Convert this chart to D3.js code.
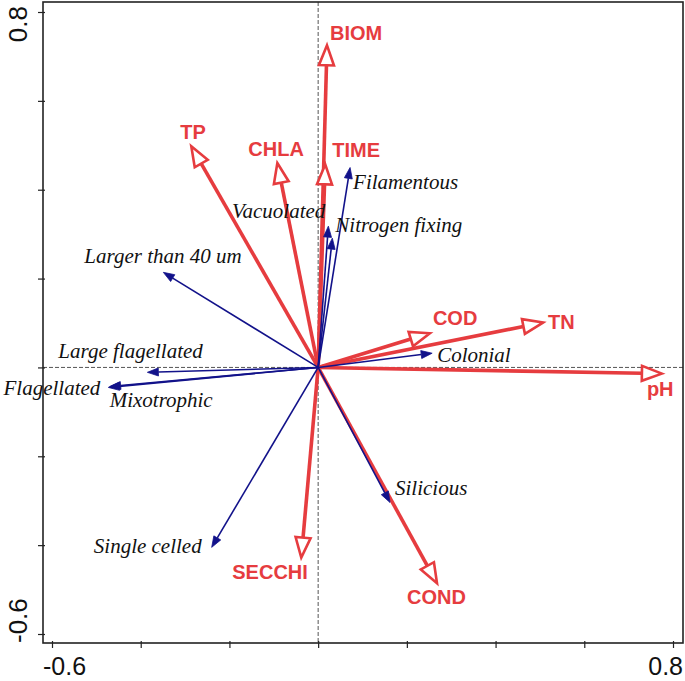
<!DOCTYPE html>
<html>
<head>
<meta charset="utf-8">
<script src="https://cdn.jsdelivr.net/npm/d3@7"></script>
<style>
  html, body { margin: 0; padding: 0; background: #fff; }
  svg { display: block; }
</style>
</head>
<body>
<svg id="chart" width="685" height="681"></svg>
<script>
// environmental variables (red, open heads)
const envNames = ["BIOM", "TP", "CHLA", "TIME", "COD", "TN", "pH", "SECCHI", "COND"];
const envX = [0.020, -0.286, -0.092, 0.016, 0.252, 0.507, 0.775, -0.038, 0.268];
const envY = [0.725, 0.498, 0.460, 0.457, 0.077, 0.101, -0.014, -0.428, -0.486];

// traits (blue, filled heads)
const traitNames = ["Filamentous", "Vacuolated", "Nitrogen fixing", "Larger than 40 um",
  "Large flagellated", "Flagellated", "Mixotrophic", "Colonial", "Silicious", "Single celled"];
const traitX = [0.072, 0.023, 0.032, -0.349, -0.385, -0.473, -0.470, 0.257, 0.162, -0.240];
const traitY = [0.450, 0.318, 0.291, 0.214, -0.011, -0.045, -0.043, 0.032, -0.304, -0.405];

const tickValues = [-0.6, -0.4, -0.2, 0, 0.2, 0.4, 0.6, 0.8];
const tickLabels = ["-0.6", "0.8"];

// label placement relative to arrow tip: [dx, dy, anchor]
const labelPlace = {
  "BIOM": [3, -5, "start"], "TP": [-11, -7, "start"], "CHLA": [-29, -7, "start"],
  "TIME": [7, -7, "start"], "COD": [3, -8, "start"], "TN": [5, 6, "start"],
  "pH": [-15, 22, "start"], "SECCHI": [-69, 21, "start"], "COND": [-30, 21, "start"],
  "Filamentous": [3, 21, "start"], "Vacuolated": [-3, -8, "end"],
  "Nitrogen fixing": [3, -6, "start"], "Larger than 40 um": [-79, -9, "start"],
  "Large flagellated": [-89, -14, "start"], "Flagellated": [-8, 8, "end"],
  "Mixotrophic": [0, 20, "start"], "Colonial": [5, 9, "start"],
  "Silicious": [5, -7, "start"], "Single celled": [-10, 6, "end"]
};

const red = "#e63c3f";
const blue = "#12128a";

const svg = d3.select("#chart");
const x = d3.scaleLinear().domain([-0.6, 0.8]).range([52, 673]);
const y = d3.scaleLinear().domain([-0.6, 0.8]).range([634, 12]);
const frameL = x.range()[0] - 9, frameR = x.range()[1] + 10;
const frameT = y.range()[1] - 10, frameB = y.range()[0] + 9;

// zero lines
const g = svg.append("g");
g.append("line")
  .attr("x1", x(0)).attr("x2", x(0)).attr("y1", frameT).attr("y2", frameB)
  .attr("stroke", "#555").attr("stroke-width", 1).attr("stroke-dasharray", "4,2");
g.append("line")
  .attr("x1", frameL).attr("x2", frameR).attr("y1", y(0)).attr("y2", y(0))
  .attr("stroke", "#555").attr("stroke-width", 1).attr("stroke-dasharray", "4,2");

// axes
const xAxis = d3.axisBottom(x).tickValues(tickValues).tickSize(5).tickFormat("");
const yAxis = d3.axisLeft(y).tickValues(tickValues).tickSize(5).tickFormat("");
svg.append("g").attr("transform", `translate(0,${frameB})`).call(xAxis)
  .call(a => a.select(".domain").remove())
  .selectAll("line").attr("stroke", "#222").attr("stroke-width", 1.2).attr("y1", -2);
svg.append("g").attr("transform", `translate(${frameL},0)`).call(yAxis)
  .call(a => a.select(".domain").remove())
  .selectAll("line").attr("stroke", "#222").attr("stroke-width", 1.2).attr("x1", 2);

svg.append("rect")
  .attr("x", frameL).attr("y", frameT).attr("width", frameR - frameL).attr("height", frameB - frameT)
  .attr("fill", "none").attr("stroke", "#222").attr("stroke-width", 1.6);

// tick labels at the frame edges
const sansFont = "'Liberation Sans', Arial, sans-serif";
svg.append("text").attr("x", frameL).attr("y", 675).attr("text-anchor", "start")
  .style("font", `25px ${sansFont}`).attr("fill", "#111").text(tickLabels[0]);
svg.append("text").attr("x", frameR).attr("y", 675).attr("text-anchor", "end")
  .style("font", `25px ${sansFont}`).attr("fill", "#111").text(tickLabels[1]);
svg.append("text").attr("transform", `translate(27,${frameB}) rotate(-90)`).attr("text-anchor", "start")
  .style("font", `26px ${sansFont}`).attr("fill", "#111").text(tickLabels[0]);
svg.append("text").attr("transform", `translate(27,${frameT + 4}) rotate(-90)`).attr("text-anchor", "end")
  .style("font", `26px ${sansFont}`).attr("fill", "#111").text(tickLabels[1]);

function arrowGeom(vx, vy, len, half) {
  const x0 = x(0), y0 = y(0);
  const tx = x(vx), ty = y(vy);
  const dx = tx - x0, dy = ty - y0;
  const d = Math.sqrt(dx * dx + dy * dy);
  const ux = dx / d, uy = dy / d;
  const bx = tx - ux * len, by = ty - uy * len;
  const px = -uy * half, py = ux * half;
  return {
    x0, y0, tx, ty, bx, by,
    head: [[tx, ty], [bx + px, by + py], [bx - px, by - py]]
  };
}

// red arrows
envNames.forEach((name, i) => {
  const a = arrowGeom(envX[i], envY[i], 20, 7.5);
  svg.append("line")
    .attr("x1", a.x0).attr("y1", a.y0).attr("x2", a.bx).attr("y2", a.by)
    .attr("stroke", red).attr("stroke-width", 3.6);
  svg.append("polygon")
    .attr("points", a.head.map(p => p.join(",")).join(" "))
    .attr("fill", "#fff").attr("stroke", red).attr("stroke-width", 2.6)
    .attr("stroke-linejoin", "miter");
});

// blue arrows
traitNames.forEach((name, i) => {
  const a = arrowGeom(traitX[i], traitY[i], 11, 4);
  svg.append("line")
    .attr("x1", a.x0).attr("y1", a.y0).attr("x2", a.bx).attr("y2", a.by)
    .attr("stroke", blue).attr("stroke-width", 1.6);
  svg.append("polygon")
    .attr("points", a.head.map(p => p.join(",")).join(" "))
    .attr("fill", blue).attr("stroke", blue).attr("stroke-width", 0.8);
});

// labels
envNames.forEach((name, i) => {
  const p = labelPlace[name];
  svg.append("text")
    .attr("x", x(envX[i]) + p[0]).attr("y", y(envY[i]) + p[1])
    .attr("text-anchor", p[2])
    .style("font", `bold 20px ${sansFont}`)
    .attr("fill", red).text(name);
});
traitNames.forEach((name, i) => {
  const p = labelPlace[name];
  svg.append("text")
    .attr("x", x(traitX[i]) + p[0]).attr("y", y(traitY[i]) + p[1])
    .attr("text-anchor", p[2])
    .style("font", "italic 21px 'Liberation Serif', 'Times New Roman', serif")
    .attr("fill", "#111").text(name);
});
</script>
</body>
</html>
